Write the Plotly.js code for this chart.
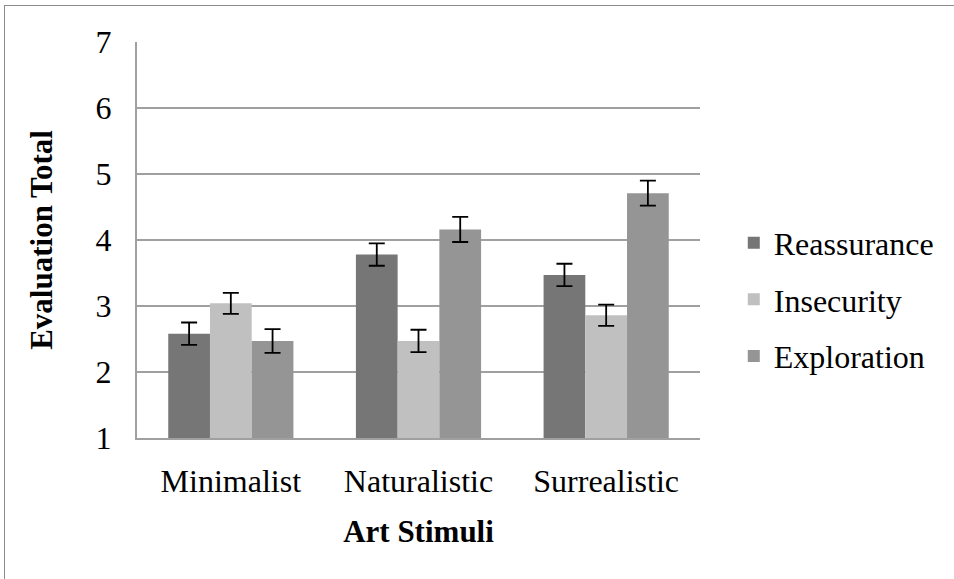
<!DOCTYPE html>
<html><head><meta charset="utf-8">
<script src="https://cdn.plot.ly/plotly-3.0.1.min.js"></script>
<style>
html,body{margin:0;padding:0;background:#fff;}
#frame{position:absolute;left:4px;top:5px;width:960px;height:600px;border-left:1.5px solid #8c8c8c;border-top:1.5px solid #8c8c8c;pointer-events:none;z-index:5;}
#chart{position:absolute;left:0;top:0;width:954px;height:579px;}
</style></head>
<body>
<div id="chart"></div>
<div id="frame"></div>
<script>
const categories = ["Minimalist", "Naturalistic", "Surrealistic"];
const seriesNames = ["Reassurance", "Insecurity", "Exploration"];
const reassurance = [2.58, 3.78, 3.47];
const insecurity = [3.04, 2.47, 2.86];
const exploration = [2.47, 4.16, 4.71];
const reassuranceErr = [0.17, 0.17, 0.17];
const insecurityErr = [0.16, 0.17, 0.16];
const explorationErr = [0.18, 0.19, 0.19];
const colors = ["#767676", "#c0c0c0", "#959595"];
const yTicks = [1, 2, 3, 4, 5, 6, 7];

const font = "Liberation Serif";
const vals = [reassurance, insecurity, exploration];
const errs = [reassuranceErr, insecurityErr, explorationErr];
const traces = seriesNames.map((n, i) => ({
  type: "bar", name: n, x: categories, y: vals[i],
  marker: {color: colors[i], line: {width: 0}},
  legendgroup: "g" + i,
  error_y: {type: "data", array: errs[i], visible: true, color: "#000", thickness: 1.8, width: 8}
}));

const layout = {
  width: 954, height: 579,
  margin: {l: 137, r: 254, t: 42, b: 141},
  paper_bgcolor: "#fff", plot_bgcolor: "#fff",
  barmode: "group", bargap: 0.333, bargroupgap: 0,
  font: {family: font, size: 32, color: "#000"},
  showlegend: true,
  legend: {x: 1.06, xanchor: "left", y: 0.35, yanchor: "middle",
    font: {family: font, size: 32, color: "#000"},
    traceorder: "grouped", tracegroupgap: 12, itemwidth: 30},
  xaxis: {
    type: "category", showgrid: false, zeroline: false,
    showline: true, linecolor: "#a0a0a0", linewidth: 2,
    ticks: "", ticklabelstandoff: 14,
    tickfont: {family: font, size: 32, color: "#000"},
    title: {text: "<b>Art Stimuli</b>", font: {family: font, size: 31, color: "#000"}, standoff: 22}
  },
  yaxis: {
    range: [1, 7], tickvals: yTicks, ticktext: yTicks.map(String),
    showgrid: true, gridcolor: "#a0a0a0", gridwidth: 1.5,
    zeroline: false, showline: true, linecolor: "#a0a0a0", linewidth: 2,
    ticks: "", ticklabelstandoff: 17,
    tickfont: {family: font, size: 32, color: "#000"},
    title: {text: "<b>Evaluation Total</b>", font: {family: font, size: 31, color: "#000"}, standoff: 34}
  }
};
Plotly.newPlot("chart", traces, layout, {displayModeBar: false, staticPlot: true});
</script>
</body></html>
